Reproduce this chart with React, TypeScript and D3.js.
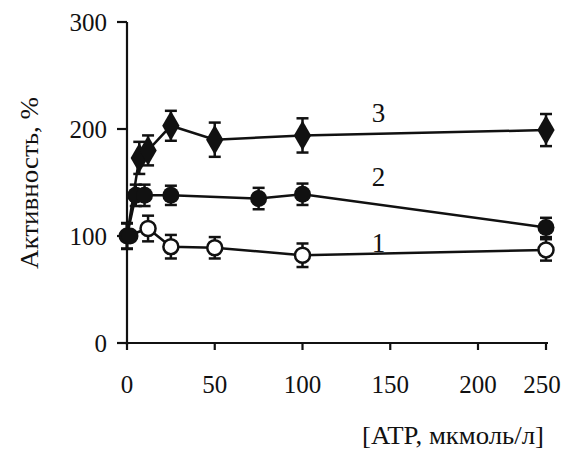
import React from "react";
import * as d3 from "d3";

// ATP concentration (мкмоль/л) and activity (%) with error
const atp1 = [0, 12, 25, 50, 100, 250];
const act1 = [100, 107, 90, 89, 82, 87];
const err1 = [12, 12, 11, 10, 11, 10];

const atp2 = [0, 5, 10, 25, 75, 100, 250];
const act2 = [100, 138, 138, 138, 135, 139, 108];
const err2 = [12, 10, 10, 9, 10, 10, 9];

const atp3 = [0, 7, 12, 25, 50, 100, 250];
const act3 = [100, 173, 180, 203, 190, 194, 199];
const err3 = [12, 15, 14, 14, 16, 16, 15];

const xTicks = [0, 50, 100, 150, 200, 250];
const yTicks = [0, 100, 200, 300];
const curveLabels = ["1", "2", "3"];
const labelAt = [120, 120, 120]; // x position (ATP units) of the curve numbers
const labelValue = [93, 155, 215];

const width = 568;
const height = 451;
const font = "Liberation Serif, Times New Roman, Times, serif";

// the last tick (250) sits closer than a linear scale would put it
const x = d3.scaleLinear().domain([0, 200, 250]).range([127, 478, 546]);
const y = d3.scaleLinear().domain([0, 300]).range([343, 22]);

function ErrorBars({ xs, ys, es }) {
  return (
    <g stroke="#111" strokeWidth={2.5}>
      {xs.map((d, i) => {
        const cx = x(d);
        const top = y(ys[i] + es[i]);
        const bot = y(ys[i] - es[i]);
        return (
          <g key={i}>
            <line x1={cx} x2={cx} y1={top} y2={bot} />
            <line x1={cx - 6} x2={cx + 6} y1={top} y2={top} />
            <line x1={cx - 6} x2={cx + 6} y1={bot} y2={bot} />
          </g>
        );
      })}
    </g>
  );
}

export default function App() {
  const line = d3
    .line<number>()
    .x((d) => d[0])
    .y((d) => d[1]);
  const pts = (xs, ys) => xs.map((d, i) => [x(d), y(ys[i])]);
  const diamond = d3.symbol().type(d3.symbolDiamond).size(260)();

  return (
    <svg
      width={width}
      height={height}
      style={{ position: "absolute", left: 0, top: 0, background: "#fff", fontFamily: font }}
    >
      {/* axes */}
      <g stroke="#111" strokeWidth={2.2}>
        <line x1={x(0)} x2={x(0)} y1={y(300)} y2={y(0) + 2} />
        <line x1={x(0) - 2} x2={x(250) + 2} y1={y(0)} y2={y(0)} />
        {yTicks.map((t) => (
          <line key={t} x1={x(0) - 10} x2={x(0)} y1={y(t)} y2={y(t)} />
        ))}
        {xTicks.map((t) => (
          <line key={t} x1={x(t)} x2={x(t)} y1={y(0)} y2={y(0) + 7} />
        ))}
      </g>
      <g fontSize={25} fill="#111" textAnchor="end">
        {yTicks.map((t) => (
          <text key={t} x={x(0) - 20} y={y(t) + 9}>
            {t}
          </text>
        ))}
      </g>
      <g fontSize={25} fill="#111" textAnchor="middle">
        {xTicks.map((t) => (
          <text key={t} x={x(t) - (t === 250 ? 4 : 0)} y={393}>
            {t}
          </text>
        ))}
      </g>
      <text x={362} y={444} fontSize={25} textLength={182} lengthAdjust="spacingAndGlyphs" fill="#111">
        [ATP, мкмоль/л]
      </text>
      <text
        transform={`translate(38,183) rotate(-90)`}
        fontSize={25}
        textAnchor="middle"
        textLength={172}
        lengthAdjust="spacingAndGlyphs"
        fill="#111"
      >
        Активность, %
      </text>

      {/* series 3: diamonds */}
      <ErrorBars xs={atp3} ys={act3} es={err3} />
      <path d={line(pts(atp3, act3))} fill="none" stroke="#111" strokeWidth={2.5} />
      {pts(atp3, act3).map((p, i) =>
        i === 0 ? null : (
          <path key={i} d={diamond} transform={`translate(${p[0]},${p[1]})`} fill="#111" />
        )
      )}

      {/* series 2: filled circles */}
      <ErrorBars xs={atp2} ys={act2} es={err2} />
      <path d={line(pts(atp2, act2))} fill="none" stroke="#111" strokeWidth={2.5} />
      {pts(atp2, act2).map((p, i) => (
        <circle key={i} cx={p[0]} cy={p[1]} r={8.5} fill="#111" />
      ))}

      {/* series 1: open circles */}
      <ErrorBars xs={atp1} ys={act1} es={err1} />
      <path d={line(pts(atp1, act1))} fill="none" stroke="#111" strokeWidth={2.5} />
      {pts(atp1, act1).map((p, i) =>
        i === 0 ? null : (
          <circle key={i} cx={p[0]} cy={p[1]} r={7.5} fill="#fff" stroke="#111" strokeWidth={2.5} />
        )
      )}
      {/* point at 0 shared by all curves */}
      <circle cx={x(0) + 3} cy={y(100)} r={8.5} fill="#111" />

      <g fontSize={27} fill="#111" textAnchor="middle">
        {curveLabels.map((l, i) => (
          <text key={l} x={x(labelAt[i]) + 41} y={y(labelValue[i]) + 9}>
            {l}
          </text>
        ))}
      </g>
    </svg>
  );
}
